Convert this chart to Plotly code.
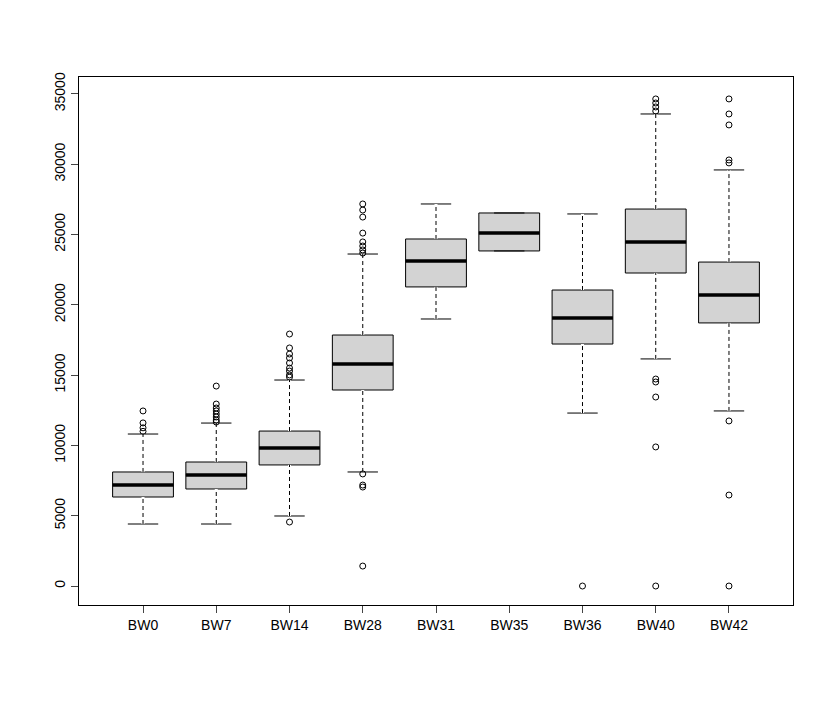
import plotly.graph_objects as go

groups = ["BW0", "BW7", "BW14", "BW28", "BW31", "BW35", "BW36", "BW40", "BW42"]
q1 = [6330, 6900, 8610, 13940, 21270, 23830, 17210, 22260, 18710]
median = [7180, 7900, 9810, 15790, 23110, 25110, 19060, 24470, 20700]
q3 = [8110, 8820, 11020, 17850, 24680, 26530, 21050, 26810, 23040]
lower = [4410, 4410, 4980, 8110, 18990, 23830, 12300, 16150, 12450]
upper = [10810, 11590, 14650, 23610, 27170, 26530, 26460, 33570, 29590]

outliers = {
    "BW0": [12450, 11600, 11250, 11000],
    "BW7": [14220, 12940, 12660, 12450, 12230, 12020, 11800, 11660],
    "BW14": [4550, 17920, 16930, 16500, 16220, 15860, 15500, 15290, 15010, 14860],
    "BW28": [7970, 7040, 7180, 1420, 27170, 26740, 26240, 25100, 24470, 24180, 23900, 23680],
    "BW31": [],
    "BW35": [],
    "BW36": [0],
    "BW40": [34640, 34350, 34070, 33780, 14510, 14720, 13440, 9890, 0],
    "BW42": [34640, 33570, 32790, 30300, 30090, 11740, 6470, 0],
}

ytick_vals = list(range(0, 35001, 5000))

pos = list(range(len(groups)))
fig = go.Figure()
fig.add_trace(go.Box(
    x=pos, q1=q1, median=median, q3=q3, lowerfence=lower, upperfence=upper,
    width=0.83, whiskerwidth=0.5, fillcolor="#d3d3d3",
    line=dict(color="black", width=1), boxpoints=False, showlegend=False,
))

# dashed whiskers: cover the solid ones, then draw dashes
wx, wy = [], []
for i in pos:
    wx += [i, i, None, i, i, None]
    wy += [q3[i], upper[i], None, lower[i], q1[i], None]
fig.add_trace(go.Scatter(x=wx, y=wy, mode="lines", line=dict(color="white", width=3),
                         showlegend=False, hoverinfo="skip"))
fig.add_trace(go.Scatter(x=wx, y=wy, mode="lines", line=dict(color="black", width=1, dash="4px,3px"),
                         showlegend=False, hoverinfo="skip"))

# thick median bars like R
mx, my = [], []
for i, m in enumerate(median):
    mx += [i - 0.415, i + 0.415, None]
    my += [m, m, None]
fig.add_trace(go.Scatter(x=mx, y=my, mode="lines", line=dict(color="black", width=3.5),
                         showlegend=False, hoverinfo="skip"))

ox, oy = [], []
for i, g in enumerate(groups):
    for v in outliers[g]:
        ox.append(i)
        oy.append(v)
fig.add_trace(go.Scatter(x=ox, y=oy, mode="markers",
                         marker=dict(symbol="circle-open", size=6, color="black", line=dict(width=1)),
                         showlegend=False))

fig.update_layout(
    width=832, height=703,
    margin=dict(l=71, r=47, t=69, b=106),
    plot_bgcolor="white", paper_bgcolor="white",
    font=dict(family="Liberation Sans, Arial", size=14, color="black"),
)
fig.update_xaxes(range=[-0.874, 8.874], tickvals=pos, ticktext=groups, ticks="outside",
                 ticklen=7, showgrid=False, zeroline=False, showline=True, mirror=True,
                 linecolor="black", linewidth=1)
fig.update_yaxes(range=[-1350, 36200], tickvals=ytick_vals, ticktext=[str(v) for v in ytick_vals],
                 tickangle=-90, ticks="outside", ticklen=7, showgrid=False, zeroline=False,
                 showline=True, mirror=True, linecolor="black", linewidth=1)

fig.write_html("out.html")
